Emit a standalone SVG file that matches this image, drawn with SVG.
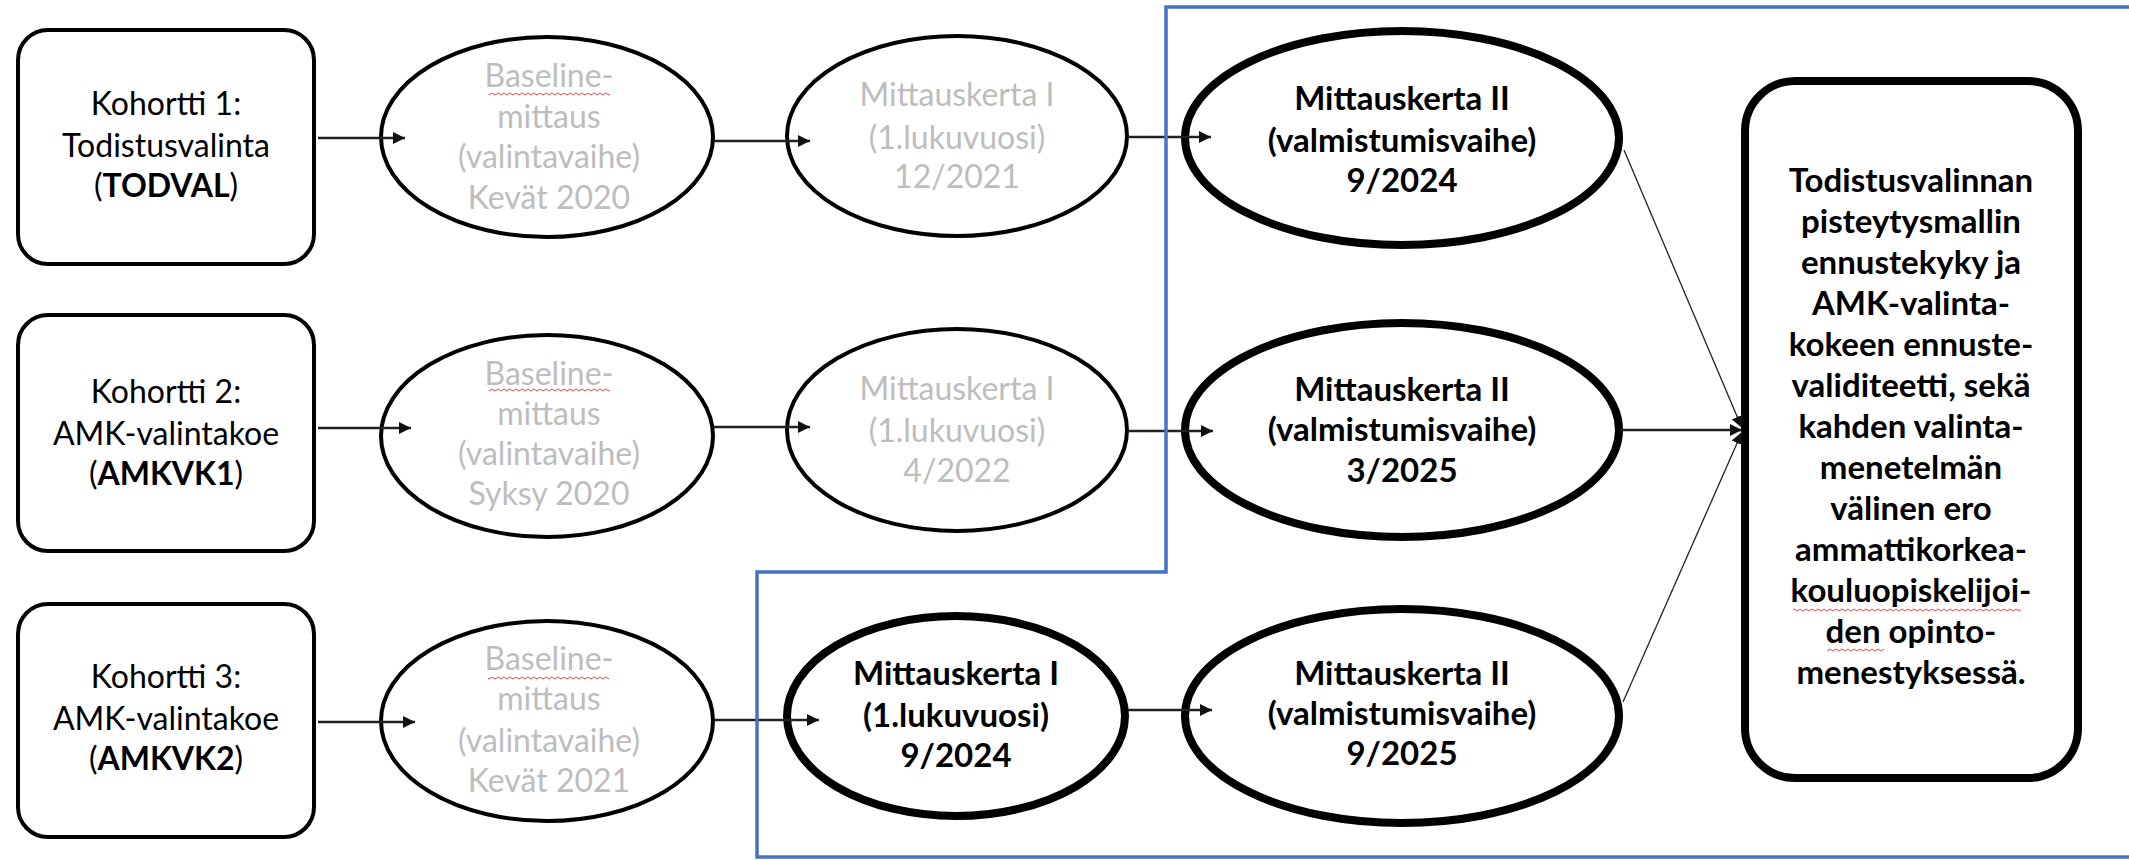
<svg xmlns="http://www.w3.org/2000/svg" width="2129" height="860" viewBox="0 0 2129 860">
<style>
  .box { fill: #fff; stroke: #000; stroke-width: 4; }
  .ell { fill: #fff; stroke: #000; stroke-width: 4; }
  .bold-ell { fill: #fff; stroke: #000; stroke-width: 8; }
  .res { fill: #fff; stroke: #000; stroke-width: 8; }
  text { font-family: Lato, "Liberation Sans", sans-serif; font-size: 32px; text-anchor: middle; }
  .k { fill: #000; }
  .g { fill: #BDBDBD; }
  .b { font-weight: bold; font-size: 33px; fill: #000; }
  .rt { font-weight: bold; font-size: 33px; fill: #000; }
  .conn { stroke: #222; stroke-width: 2.5; fill: none; marker-end: url(#ah); }
  .diag { stroke: #222; stroke-width: 1.3; fill: none; marker-end: url(#ah); }
  .blue { fill: none; stroke: #4472C4; stroke-width: 3.5; }
</style>
<defs>
  <marker id="ah" viewBox="0 0 10 10" refX="10" refY="5" markerWidth="12" markerHeight="12" markerUnits="userSpaceOnUse" orient="auto">
    <path d="M0,0 L10,5 L0,10 z" fill="#111"/>
  </marker>
  <pattern id="squig" x="0" y="0" width="6" height="4" patternUnits="userSpaceOnUse">
    <path d="M0,1 L3,3 L6,1" fill="none" stroke="#E03030" stroke-width="0.9"/>
  </pattern>
</defs>
<rect width="2129" height="860" fill="#fff"/>

<g id="kohortti1">
  <rect class="box" x="18" y="30" width="296" height="234" rx="30"/>
  <text x="166" y="115" class="k">Kohortti 1:</text>
  <text x="166" y="157" class="k">Todistusvalinta</text>
  <text x="166" y="197" class="k">(<tspan font-weight="bold">TODVAL</tspan>)</text>
</g>
<g id="kohortti2">
  <rect class="box" x="18" y="315" width="296" height="236" rx="30"/>
  <text x="166" y="403" class="k">Kohortti 2:</text>
  <text x="166" y="445" class="k">AMK-valintakoe</text>
  <text x="166" y="485" class="k">(<tspan font-weight="bold">AMKVK1</tspan>)</text>
</g>
<g id="kohortti3">
  <rect class="box" x="18" y="604" width="296" height="233" rx="30"/>
  <text x="166" y="688" class="k">Kohortti 3:</text>
  <text x="166" y="730" class="k">AMK-valintakoe</text>
  <text x="166" y="770" class="k">(<tspan font-weight="bold">AMKVK2</tspan>)</text>
</g>

<g id="baseline1">
  <ellipse class="ell" cx="547" cy="137" rx="166" ry="100"/>
  <text x="549" y="87" class="g">Baseline-</text>
  <text x="549" y="128" class="g">mittaus</text>
  <text x="549" y="168" class="g">(valintavaihe)</text>
  <text x="549" y="209" class="g">Kevät 2020</text>
  <rect x="489" y="92" width="121" height="4" fill="url(#squig)"/>
</g>
<g id="baseline2">
  <ellipse class="ell" cx="547" cy="436" rx="166" ry="101"/>
  <text x="549" y="385" class="g">Baseline-</text>
  <text x="549" y="425" class="g">mittaus</text>
  <text x="549" y="465" class="g">(valintavaihe)</text>
  <text x="549" y="505" class="g">Syksy 2020</text>
  <rect x="489" y="388" width="121" height="4" fill="url(#squig)"/>
</g>
<g id="baseline3">
  <ellipse class="ell" cx="547" cy="721" rx="166" ry="100"/>
  <text x="549" y="670" class="g">Baseline-</text>
  <text x="549" y="710" class="g">mittaus</text>
  <text x="549" y="752" class="g">(valintavaihe)</text>
  <text x="549" y="792" class="g">Kevät 2021</text>
  <rect x="488" y="676" width="121" height="4" fill="url(#squig)"/>
</g>

<g id="mittaus1-1">
  <ellipse class="ell" cx="957" cy="136" rx="170" ry="100"/>
  <text x="957" y="106" class="g">Mittauskerta I</text>
  <text x="957" y="149" class="g">(1.lukuvuosi)</text>
  <text x="957" y="188" class="g">12/2021</text>
</g>
<g id="mittaus1-2">
  <ellipse class="ell" cx="957" cy="430" rx="170" ry="101"/>
  <text x="957" y="400" class="g">Mittauskerta I</text>
  <text x="957" y="442" class="g">(1.lukuvuosi)</text>
  <text x="957" y="482" class="g">4/2022</text>
</g>
<g id="mittaus1-3">
  <ellipse class="bold-ell" cx="956" cy="716" rx="169" ry="100"/>
  <text x="956" y="685" class="b">Mittauskerta I</text>
  <text x="956" y="727" class="b">(1.lukuvuosi)</text>
  <text x="956" y="767" class="b">9/2024</text>
</g>

<g id="mittaus2-1">
  <ellipse class="bold-ell" cx="1402" cy="138" rx="217" ry="107"/>
  <text x="1402" y="110" class="b">Mittauskerta II</text>
  <text x="1402" y="152" class="b">(valmistumisvaihe)</text>
  <text x="1402" y="192" class="b">9/2024</text>
</g>
<g id="mittaus2-2">
  <ellipse class="bold-ell" cx="1402" cy="430" rx="217" ry="107"/>
  <text x="1402" y="401" class="b">Mittauskerta II</text>
  <text x="1402" y="441" class="b">(valmistumisvaihe)</text>
  <text x="1402" y="482" class="b">3/2025</text>
</g>
<g id="mittaus2-3">
  <ellipse class="bold-ell" cx="1402" cy="716" rx="217" ry="107"/>
  <text x="1402" y="685" class="b">Mittauskerta II</text>
  <text x="1402" y="725" class="b">(valmistumisvaihe)</text>
  <text x="1402" y="765" class="b">9/2025</text>
</g>

<g id="tulos">
  <rect class="res" x="1745" y="81" width="333" height="697" rx="50"/>
  <text x="1911" y="192" class="rt">Todistusvalinnan</text>
  <text x="1911" y="233" class="rt">pisteytysmallin</text>
  <text x="1911" y="274" class="rt">ennustekyky ja</text>
  <text x="1911" y="315" class="rt">AMK-valinta-</text>
  <text x="1911" y="356" class="rt">kokeen ennuste-</text>
  <text x="1911" y="397" class="rt">validiteetti, sekä</text>
  <text x="1911" y="438" class="rt">kahden valinta-</text>
  <text x="1911" y="479" class="rt">menetelmän</text>
  <text x="1911" y="520" class="rt">välinen ero</text>
  <text x="1911" y="561" class="rt">ammattikorkea-</text>
  <text x="1911" y="602" class="rt">kouluopiskelijoi-</text>
  <text x="1911" y="643" class="rt">den opinto-</text>
  <text x="1911" y="684" class="rt">menestyksessä.</text>
  <rect x="1793" y="608" width="228" height="4" fill="url(#squig)"/>
  <rect x="1827" y="648" width="57" height="4" fill="url(#squig)"/>
</g>

<g id="connectors">
  <line class="conn" x1="318" y1="138" x2="405" y2="138"/>
  <line class="conn" x1="714" y1="141" x2="810" y2="141"/>
  <line class="conn" x1="1128" y1="137" x2="1211" y2="137"/>
  <line class="conn" x1="318" y1="428" x2="411" y2="428"/>
  <line class="conn" x1="714" y1="427" x2="810" y2="427"/>
  <line class="conn" x1="1128" y1="431" x2="1213" y2="431"/>
  <line class="conn" x1="318" y1="722" x2="415" y2="722"/>
  <line class="conn" x1="714" y1="720" x2="819" y2="720"/>
  <line class="conn" x1="1128" y1="710" x2="1212" y2="710"/>
  <line class="diag" x1="1624" y1="150" x2="1742" y2="428"/>
  <line class="conn" x1="1621" y1="430" x2="1742" y2="430"/>
  <line class="diag" x1="1623" y1="702" x2="1742" y2="432"/>
</g>

<path id="blue-frame" class="blue" d="M2135,7 L1166,7 L1166,572 L757,572 L757,857 L2135,857"/>
</svg>
